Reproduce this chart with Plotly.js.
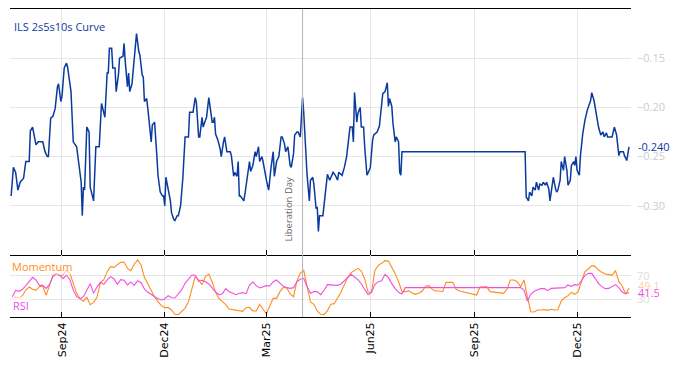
<!DOCTYPE html>
<html><head><meta charset="utf-8">
<script src="https://cdn.plot.ly/plotly-3.0.1.min.js"></script>
<style>html,body{margin:0;padding:0;background:#fff}#chart{width:678px;height:366px}</style>
</head><body><div id="chart"></div>
<script>
const curveName = 'ILS 2s5s10s Curve';
const curveDates = ['2024-07-18','2024-07-20','2024-07-22','2024-07-24','2024-07-26','2024-07-29','2024-07-31','2024-08-03','2024-08-04','2024-08-06',
'2024-08-09','2024-08-11','2024-08-15','2024-08-17','2024-08-19','2024-08-20','2024-08-22','2024-08-24','2024-08-26','2024-08-28',
'2024-08-29','2024-08-31','2024-09-01','2024-09-03','2024-09-05','2024-09-06','2024-09-09','2024-09-11','2024-09-14','2024-09-16',
'2024-09-18','2024-09-19','2024-09-20','2024-09-21','2024-09-23','2024-09-25','2024-09-26','2024-09-29','2024-10-01','2024-10-04',
'2024-10-06','2024-10-09','2024-10-11','2024-10-12','2024-10-13','2024-10-15','2024-10-16','2024-10-18','2024-10-19','2024-10-21',
'2024-10-22','2024-10-25','2024-10-26','2024-10-27','2024-10-29','2024-10-30','2024-10-31','2024-11-02','2024-11-06','2024-11-08',
'2024-11-09','2024-11-11','2024-11-12','2024-11-13','2024-11-15','2024-11-16','2024-11-19','2024-11-20','2024-11-22','2024-11-24',
'2024-11-25','2024-11-27','2024-11-29','2024-11-30','2024-12-01','2024-12-02','2024-12-04','2024-12-06','2024-12-07','2024-12-09',
'2024-12-10','2024-12-12','2024-12-13','2024-12-15','2024-12-16','2024-12-17','2024-12-19','2024-12-22','2024-12-23','2024-12-26',
'2024-12-28','2024-12-29','2024-12-31','2025-01-01','2025-01-03','2025-01-04','2025-01-06','2025-01-07','2025-01-09','2025-01-10',
'2025-01-12','2025-01-13','2025-01-14','2025-01-15','2025-01-17','2025-01-19','2025-01-20','2025-01-22','2025-01-23','2025-01-25',
'2025-01-28','2025-01-29','2025-01-31','2025-02-01','2025-02-03','2025-02-04','2025-02-05','2025-02-06','2025-02-09','2025-02-10',
'2025-02-12','2025-02-14','2025-02-15','2025-02-17','2025-02-19','2025-02-20','2025-02-22','2025-02-23','2025-02-25','2025-02-26',
'2025-03-01','2025-03-03','2025-03-05','2025-03-07','2025-03-08','2025-03-10','2025-03-12','2025-03-14','2025-03-15','2025-03-17',
'2025-03-18','2025-03-20','2025-03-22','2025-03-23','2025-03-25','2025-03-26','2025-03-28','2025-03-29','2025-03-31','2025-04-01',
'2025-04-02','2025-04-03','2025-04-05','2025-04-06','2025-04-08','2025-04-09','2025-04-11','2025-04-12','2025-04-14','2025-04-15',
'2025-04-16','2025-04-17','2025-04-20','2025-04-22','2025-04-24','2025-04-26','2025-04-29','2025-05-01','2025-05-03','2025-05-04',
'2025-05-07','2025-05-09','2025-05-11','2025-05-13','2025-05-14','2025-05-16','2025-05-17','2025-05-18','2025-05-20','2025-05-21',
'2025-05-23','2025-05-24','2025-05-26','2025-05-27','2025-05-29','2025-05-31','2025-06-01','2025-06-03','2025-06-04','2025-06-07',
'2025-06-09','2025-06-10','2025-06-12','2025-06-14','2025-06-16','2025-06-17','2025-06-18','2025-06-20','2025-06-21','2025-06-23',
'2025-06-24','2025-06-26','2025-06-27','2025-06-28','2025-06-29','2025-10-16','2025-10-17','2025-10-19','2025-10-20','2025-10-22',
'2025-10-23','2025-10-25','2025-10-26','2025-10-28','2025-10-29','2025-10-31','2025-11-01','2025-11-03','2025-11-04','2025-11-06',
'2025-11-07','2025-11-09','2025-11-10','2025-11-12','2025-11-13','2025-11-14','2025-11-16','2025-11-17','2025-11-19','2025-11-20',
'2025-11-22','2025-11-23','2025-11-25','2025-11-26','2025-11-28','2025-11-29','2025-11-30','2025-12-01','2025-12-03','2025-12-04',
'2025-12-06','2025-12-08','2025-12-10','2025-12-13','2025-12-14','2025-12-16','2025-12-18','2025-12-20','2025-12-22','2025-12-24',
'2025-12-25','2025-12-27','2025-12-28','2026-01-01','2026-01-03','2026-01-05','2026-01-07','2026-01-08','2026-01-11','2026-01-12',
'2026-01-14','2026-01-16'];
const curveValues = [-0.290,-0.261,-0.266,-0.284,-0.276,-0.272,-0.255,-0.255,-0.224,-0.220,
-0.238,-0.235,-0.235,-0.245,-0.250,-0.250,-0.211,-0.209,-0.201,-0.179,
-0.176,-0.194,-0.189,-0.160,-0.155,-0.159,-0.184,-0.235,-0.240,-0.259,
-0.276,-0.310,-0.281,-0.284,-0.220,-0.225,-0.281,-0.295,-0.240,-0.240,
-0.196,-0.210,-0.165,-0.165,-0.140,-0.140,-0.160,-0.160,-0.184,-0.167,
-0.150,-0.148,-0.135,-0.153,-0.179,-0.165,-0.184,-0.176,-0.125,-0.143,
-0.147,-0.167,-0.169,-0.194,-0.191,-0.201,-0.235,-0.218,-0.215,-0.249,
-0.269,-0.286,-0.290,-0.290,-0.300,-0.271,-0.283,-0.295,-0.307,-0.314,
-0.315,-0.310,-0.310,-0.300,-0.286,-0.272,-0.230,-0.230,-0.205,-0.205,
-0.190,-0.195,-0.230,-0.230,-0.210,-0.220,-0.213,-0.210,-0.190,-0.199,
-0.215,-0.215,-0.210,-0.227,-0.233,-0.242,-0.250,-0.235,-0.230,-0.245,
-0.245,-0.249,-0.270,-0.266,-0.270,-0.255,-0.290,-0.290,-0.295,-0.288,
-0.272,-0.255,-0.265,-0.259,-0.245,-0.250,-0.240,-0.255,-0.250,-0.255,
-0.274,-0.284,-0.262,-0.245,-0.270,-0.255,-0.250,-0.230,-0.230,-0.237,
-0.245,-0.240,-0.259,-0.261,-0.247,-0.228,-0.225,-0.225,-0.230,-0.204,
-0.190,-0.205,-0.250,-0.269,-0.295,-0.274,-0.271,-0.278,-0.303,-0.301,
-0.326,-0.310,-0.310,-0.292,-0.268,-0.274,-0.266,-0.269,-0.274,-0.266,
-0.269,-0.261,-0.250,-0.230,-0.220,-0.220,-0.235,-0.185,-0.215,-0.206,
-0.200,-0.220,-0.220,-0.240,-0.269,-0.264,-0.261,-0.233,-0.228,-0.225,
-0.219,-0.208,-0.186,-0.184,-0.175,-0.199,-0.191,-0.199,-0.216,-0.235,
-0.230,-0.235,-0.266,-0.269,-0.245,-0.245,-0.291,-0.295,-0.286,-0.290,
-0.281,-0.284,-0.276,-0.284,-0.278,-0.279,-0.276,-0.279,-0.276,-0.283,
-0.295,-0.279,-0.271,-0.283,-0.286,-0.284,-0.274,-0.255,-0.264,-0.250,
-0.264,-0.279,-0.274,-0.259,-0.255,-0.259,-0.250,-0.264,-0.269,-0.249,
-0.227,-0.213,-0.203,-0.193,-0.185,-0.193,-0.208,-0.220,-0.228,-0.225,
-0.230,-0.226,-0.230,-0.230,-0.220,-0.228,-0.249,-0.245,-0.245,-0.249,
-0.254,-0.240];

const indDates = ['2024-07-19','2024-07-22','2024-07-25','2024-07-28','2024-07-31','2024-08-03','2024-08-06','2024-08-09','2024-08-12','2024-08-15',
'2024-08-18','2024-08-21','2024-08-24','2024-08-27','2024-08-30','2024-09-02','2024-09-05','2024-09-08','2024-09-11','2024-09-14',
'2024-09-17','2024-09-20','2024-09-23','2024-09-26','2024-09-29','2024-10-02','2024-10-05','2024-10-08','2024-10-11','2024-10-14',
'2024-10-17','2024-10-20','2024-10-23','2024-10-26','2024-10-29','2024-11-01','2024-11-04','2024-11-07','2024-11-10','2024-11-13',
'2024-11-16','2024-11-19','2024-11-22','2024-11-25','2024-11-28','2024-12-01','2024-12-04','2024-12-07','2024-12-10','2024-12-13',
'2024-12-16','2024-12-19','2024-12-22','2024-12-25','2024-12-28','2024-12-31','2025-01-03','2025-01-06','2025-01-09','2025-01-12',
'2025-01-15','2025-01-18','2025-01-21','2025-01-24','2025-01-27','2025-01-30','2025-02-02','2025-02-05','2025-02-08','2025-02-11',
'2025-02-14','2025-02-17','2025-02-20','2025-02-23','2025-02-26','2025-03-01','2025-03-04','2025-03-07','2025-03-10','2025-03-13',
'2025-03-16','2025-03-19','2025-03-22','2025-03-25','2025-03-28','2025-03-31','2025-04-03','2025-04-06','2025-04-09','2025-04-12',
'2025-04-15','2025-04-18','2025-04-21','2025-04-24','2025-04-27','2025-04-30','2025-05-03','2025-05-06','2025-05-09','2025-05-12',
'2025-05-15','2025-05-18','2025-05-21','2025-05-24','2025-05-27','2025-05-30','2025-06-02','2025-06-05','2025-06-08','2025-06-11',
'2025-06-14','2025-06-17','2025-06-20','2025-06-23','2025-06-26','2025-06-29','2025-07-02','2025-07-05','2025-07-08','2025-07-11',
'2025-07-14','2025-07-17','2025-07-20','2025-07-23','2025-07-26','2025-07-29','2025-08-01','2025-08-04','2025-08-07','2025-08-10',
'2025-08-13','2025-08-16','2025-08-19','2025-08-22','2025-08-25','2025-08-28','2025-08-31','2025-09-03','2025-09-06','2025-09-09',
'2025-09-12','2025-09-15','2025-09-18','2025-09-21','2025-09-24','2025-09-27','2025-09-30','2025-10-03','2025-10-06','2025-10-09',
'2025-10-12','2025-10-15','2025-10-18','2025-10-21','2025-10-24','2025-10-27','2025-10-30','2025-11-02','2025-11-05','2025-11-08',
'2025-11-11','2025-11-14','2025-11-17','2025-11-20','2025-11-23','2025-11-26','2025-11-29','2025-12-02','2025-12-05','2025-12-08',
'2025-12-11','2025-12-14','2025-12-17','2025-12-20','2025-12-23','2025-12-26','2025-12-29','2026-01-01','2026-01-04','2026-01-07',
'2026-01-10','2026-01-13','2026-01-16'];
const momentum = [32.2,33.9,32.2,36.1,45.7,50.8,46.9,45.2,51.4,52.5,
36.7,55.3,70.6,73.9,70.0,71.1,79.0,73.9,55.9,40.1,
31.0,26.5,33.3,20.9,24.8,33.3,57.6,63.2,76.8,85.2,
84.1,88.1,92.6,93.1,82.4,78.5,89.8,96.5,88.1,67.2,
55.9,44.6,33.9,26.0,19.2,15.8,15.8,11.9,4.5,4.0,
10.2,14.7,26.0,48.5,68.9,62.7,54.8,68.3,72.8,59.3,
41.8,31.0,26.5,20.9,13.5,12.4,11.9,10.7,9.6,15.8,
16.4,10.2,10.2,21.5,13.5,5.1,19.2,31.6,31.6,42.9,
50.2,49.1,39.0,34.4,61.0,74.5,79.0,52.5,25.4,21.5,
10.2,4.5,4.0,10.7,21.5,22.6,32.2,41.8,54.8,67.2,
75.1,79.0,82.4,77.9,64.4,41.8,41.8,79.0,87.5,90.9,
95.4,94.8,85.2,73.4,59.8,42.9,42.9,44.6,40.6,38.4,
40.6,44.0,52.5,53.1,46.3,44.0,44.0,42.9,58.7,58.7,
58.7,46.9,44.0,42.9,41.2,39.5,37.8,37.3,50.8,51.4,
51.4,42.9,42.3,41.8,41.8,40.1,46.9,62.7,62.7,59.8,
51.4,62.7,34.4,9.0,8.5,11.9,11.9,12.4,11.3,13.0,
11.9,12.4,27.1,32.7,36.1,41.8,38.4,42.9,61.0,76.8,
81.3,86.9,85.8,79.6,75.6,72.8,71.7,70.6,78.5,59.8,
52.5,38.4,49.1];
const rsi = [33.9,45.2,43.5,46.9,53.1,59.3,67.2,62.7,53.6,53.6,
48.5,55.3,68.3,72.8,71.1,64.9,71.1,63.2,45.7,34.4,
31.0,34.4,46.9,56.5,40.1,50.8,58.7,55.3,62.7,68.3,
64.9,55.3,63.2,62.1,54.2,59.3,53.6,61.5,58.1,47.4,
41.8,37.8,33.9,31.0,28.8,30.5,36.1,32.7,32.2,39.0,
46.3,57.0,64.9,71.1,70.6,60.4,62.1,59.8,55.9,49.1,
42.3,37.8,39.5,48.0,42.9,40.6,37.8,40.1,41.2,39.5,
54.2,59.3,53.1,49.1,50.8,53.1,52.5,59.8,62.7,57.0,
51.9,49.7,48.5,49.7,59.8,63.8,65.5,51.4,40.1,42.9,
42.9,37.8,45.2,54.8,54.2,53.6,53.6,55.9,61.5,67.2,
72.3,67.7,63.2,55.9,46.3,37.8,41.8,54.8,59.8,61.5,
72.3,66.6,56.5,48.0,41.8,39.0,49.7,49.7,49.7,49.7,
49.7,49.7,49.7,49.7,49.7,49.7,49.7,49.7,49.7,49.7,
49.7,49.7,49.7,49.7,49.7,49.7,49.7,49.7,49.7,49.7,
49.7,49.7,49.7,49.7,49.7,49.7,49.7,49.7,49.7,49.7,
49.7,45.7,27.1,38.4,43.5,46.3,48.0,48.0,44.6,48.5,
49.1,48.5,49.7,49.7,54.2,51.9,54.8,54.2,61.5,70.6,
73.9,73.9,65.5,56.5,51.4,48.0,48.5,51.4,54.8,49.7,
42.3,39.5,41.5];

const xTickVals = ['2024-09-01','2024-12-01','2025-03-01','2025-06-01','2025-09-01','2025-12-01'];
const xTickText = ['Sep24','Dec24','Mar25','Jun25','Sep25','Dec25'];
const curveTicks = [-0.30,-0.25,-0.20,-0.15];
const indTicks = [30,70];
const eventDate = '2025-04-02';
const eventLabel = 'Liberation Day';

const BLUE = '#0b3a9e', ORANGE = '#ff8c1a', PINK = '#f04fe0';
const GRID = '#e6e6e6';
const FONT = 'Open Sans, Arial, sans-serif';
const lastCurve = curveValues[curveValues.length - 1];
const lastMom = momentum[momentum.length - 1];
const lastRsi = rsi[rsi.length - 1];
const split = 62 / 308;

const traces = [
  {x: curveDates, y: curveValues, type: 'scatter', mode: 'lines', xaxis: 'x', yaxis: 'y',
   line: {color: BLUE, width: 1.5}, hoverinfo: 'skip'},
  {x: indDates, y: momentum, type: 'scatter', mode: 'lines', xaxis: 'x2', yaxis: 'y2',
   line: {color: ORANGE, width: 1.1}, hoverinfo: 'skip'},
  {x: indDates, y: rsi, type: 'scatter', mode: 'lines', xaxis: 'x2', yaxis: 'y2',
   line: {color: PINK, width: 1.1}, hoverinfo: 'skip'}
];

const xrange = ['2024-07-17', '2026-01-17 18:00'];
const layout = {
  width: 678, height: 366,
  margin: {l: 10, r: 47, t: 9, b: 49},
  paper_bgcolor: '#fff', plot_bgcolor: '#fff',
  showlegend: false,
  font: {family: FONT, size: 11, color: '#000'},
  xaxis: {domain: [0, 1], anchor: 'y', type: 'date', range: xrange,
    tickvals: xTickVals, showticklabels: false, ticks: 'inside', ticklen: 5, tickcolor: '#000',
    showline: true, linecolor: '#000', linewidth: 1, mirror: true,
    showgrid: true, gridcolor: GRID, zeroline: false},
  yaxis: {domain: [split, 1], anchor: 'x', side: 'right', range: [-0.35, -0.10],
    tickvals: curveTicks, tickformat: '.2f', ticks: '', ticklabelstandoff: 5,
    tickfont: {size: 11, color: '#cccccc', family: FONT},
    showgrid: true, gridcolor: GRID, zeroline: false, showline: false},
  xaxis2: {domain: [0, 1], anchor: 'y2', type: 'date', range: xrange, matches: 'x',
    tickvals: xTickVals, ticktext: xTickText, tickangle: -90,
    tickfont: {size: 11, color: '#000', family: 'DejaVu Sans, sans-serif'},
    ticks: 'inside', ticklen: 5, tickcolor: '#000',
    showline: true, linecolor: '#000', linewidth: 1, mirror: false,
    showgrid: true, gridcolor: GRID, zeroline: false},
  yaxis2: {domain: [0, split], anchor: 'x2', side: 'right', range: [0, 105],
    tickvals: indTicks, ticks: '', ticklabelstandoff: 5,
    tickfont: {size: 11, color: '#dddddd', family: FONT},
    showgrid: true, gridcolor: GRID, zeroline: false, showline: false},
  shapes: [
    {type: 'line', xref: 'x', yref: 'paper', x0: eventDate, x1: eventDate, y0: 0, y1: 1,
     line: {color: '#b5b5b5', width: 1}}
  ],
  annotations: [
    {text: curveName, xref: 'paper', yref: 'paper', x: 0, y: 1, xanchor: 'left', yanchor: 'top',
     xshift: 2, yshift: -8, showarrow: false, font: {size: 11, color: BLUE, family: FONT}},
    {text: lastCurve.toFixed(3), xref: 'paper', yref: 'y', x: 1, y: lastCurve, xanchor: 'left', yanchor: 'middle',
     xshift: 5, showarrow: false, font: {size: 11, color: BLUE, family: FONT}},
    {text: eventLabel, xref: 'x', yref: 'y', x: eventDate, y: -0.35, xanchor: 'right', yanchor: 'bottom',
     xshift: -6, yshift: 11, textangle: -90, showarrow: false, font: {size: 9.5, color: '#666', family: FONT}},
    {text: 'Momentum', xref: 'paper', yref: 'y2', x: 0, y: 85, xanchor: 'left', yanchor: 'middle',
     xshift: 1, showarrow: false, bgcolor: 'rgba(255,255,255,0.6)', borderpad: 0,
     font: {size: 11, color: ORANGE, family: FONT}},
    {text: 'RSI', xref: 'paper', yref: 'y2', x: 0, y: 19, xanchor: 'left', yanchor: 'middle',
     xshift: 1, showarrow: false, bgcolor: 'rgba(255,255,255,0.6)', borderpad: 1,
     font: {size: 11, color: PINK, family: FONT}},
    {text: lastMom.toFixed(1), xref: 'paper', yref: 'y2', x: 1, y: lastMom, xanchor: 'left', yanchor: 'middle',
     xshift: 5, yshift: 3, showarrow: false, font: {size: 11, color: 'rgba(255,140,26,0.45)', family: FONT}},
    {text: lastRsi.toFixed(1), xref: 'paper', yref: 'y2', x: 1, y: lastRsi, xanchor: 'left', yanchor: 'middle',
     xshift: 5, showarrow: false, font: {size: 11, color: PINK, family: FONT}}
  ]
};

Plotly.newPlot('chart', traces, layout, {displayModeBar: false, staticPlot: true});
</script>
</body></html>
